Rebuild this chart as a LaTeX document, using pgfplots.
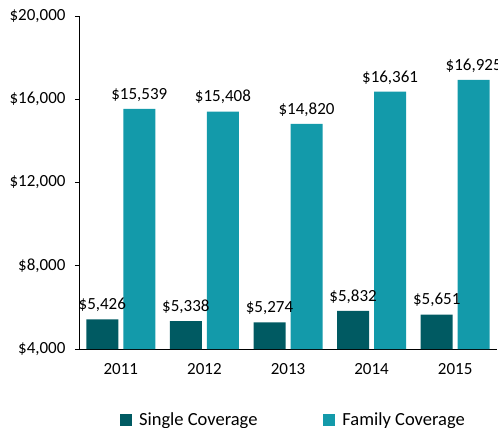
\documentclass[border=0pt]{standalone}
\usepackage{pgfplots}
\pgfplotsset{compat=1.18}
\usepackage{fontspec}
\setmainfont{Carlito}

\definecolor{singlec}{HTML}{005A62}
\definecolor{familyc}{HTML}{139AAA}

\pgfplotstableread{
x year single family
0 2011 5426 15539
1 2012 5338 15408
2 2013 5274 14820
3 2014 5832 16361
4 2015 5651 16925
}\premiums

\begin{document}
\begin{tikzpicture}
\begin{axis}[
    scale only axis,
    width=418pt, height=333pt,
    xmin=-0.5, xmax=4.5,
    ymin=4000, ymax=20000,
    axis x line*=bottom,
    axis y line*=left,
    axis line style={line width=0.8pt},
    tick align=outside,
    xtick={0,1,2,3,4},
    xticklabels={2011,2012,2013,2014,2015},
    xtick style={draw=none},
    minor xtick={-0.5,0.5,1.5,2.5,3.5,4.5},
    minor tick length=6pt,
    minor x tick style={line width=0.8pt,black},
    scaled y ticks=false,
    ytick={4000,8000,12000,16000,20000},
    yticklabels={{\$4,000},{\$8,000},{\$12,000},{\$16,000},{\$20,000}},
    major tick length=4pt,
    y tick style={line width=0.8pt,black},
    ticklabel style={font=\fontsize{17}{19}\selectfont},
    xticklabel style={yshift=-7pt},
    yticklabel style={xshift=-6pt},
    ybar,
    bar width=32pt,
    nodes near coords={\$\pgfmathprintnumber[assume math mode=true,1000 sep={,}]{\pgfplotspointmeta}},
    every node near coord/.append style={font=\fontsize{17}{19}\selectfont,black,yshift=4pt},
    legend columns=2,
    legend style={draw=none, at={(0.513,-0.213)}, anchor=center,
        font=\fontsize{18.5}{20}\selectfont,
        /tikz/every even column/.append style={column sep=64pt}},
    legend image code/.code={\fill[#1] (0pt,-6pt) rectangle (12pt,6pt);},
]
\addplot[fill=singlec, draw=none, bar shift=-18.5pt] table[x=x, y=single] {\premiums};
\addlegendentry{\hspace{5pt}Single Coverage}
\addplot[fill=familyc, draw=none, bar shift=18.5pt] table[x=x, y=family] {\premiums};
\addlegendentry{\hspace{5pt}Family Coverage}
\end{axis}
\pgfresetboundingbox
\path[use as bounding box] ([xshift=-79pt,yshift=-79pt]current axis.south west) rectangle ([xshift=419pt,yshift=349pt]current axis.south west);
\end{tikzpicture}
\end{document}
